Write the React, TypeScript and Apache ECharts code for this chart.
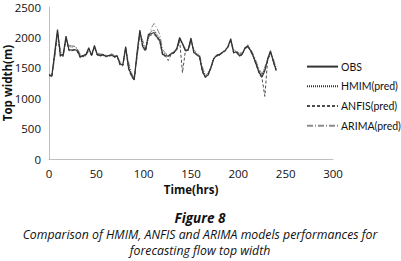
import React, { useEffect, useRef } from "react";
import * as echarts from "echarts";

const times: number[] = [];
for (let t = 0; t <= 240; t += 3) times.push(t);

const obs = [1380,1360,1750,2130,1700,1720,2020,1800,1790,1800,1780,1680,1700,1720,1830,1700,1870,1720,1700,1720,1690,1700,1710,1680,1700,1560,1550,1850,1500,1380,1300,1750,2120,1850,1790,2050,2060,2080,2010,1950,1720,1700,1690,1730,1750,1820,2000,1900,1780,1800,1990,1750,1720,1680,1450,1350,1380,1500,1650,1700,1720,1750,1780,1850,1980,1750,1760,1700,1720,1830,1860,1780,1680,1550,1420,1350,1450,1650,1780,1600,1460];
const hmim = [1370,1380,1700,2100,1750,1680,1980,1850,1840,1850,1800,1700,1680,1700,1800,1720,1850,1700,1720,1700,1700,1690,1720,1700,1680,1580,1540,1820,1550,1400,1320,1700,2080,1900,1800,2000,2100,2120,2050,1980,1750,1720,1700,1740,1760,1800,1980,1880,1800,1780,1960,1780,1730,1700,1480,1370,1400,1520,1660,1710,1700,1760,1790,1840,1950,1780,1770,1720,1740,1810,1840,1790,1700,1580,1450,1380,1500,1620,1760,1620,1480];
const anfis = [1390,1350,1720,2080,1680,1700,1990,1780,1780,1790,1760,1660,1690,1710,1810,1690,1840,1710,1690,1710,1680,1690,1700,1670,1690,1540,1530,1830,1480,1360,1290,1720,2090,1830,1770,2020,2040,2050,1990,1930,1700,1690,1620,1720,1740,1800,1950,1420,1770,1790,1970,1740,1710,1670,1430,1340,1370,1490,1640,1690,1710,1740,1770,1840,1960,1740,1750,1690,1710,1820,1850,1770,1670,1540,1400,1330,1030,1640,1770,1590,1450];
const arima = [1400,1370,1650,2050,1800,1700,1950,1870,1860,1860,1820,1720,1690,1700,1780,1740,1820,1740,1730,1720,1710,1700,1730,1710,1690,1600,1560,1780,1600,1420,1330,1650,2050,1950,1820,1980,2150,2230,2150,2050,1800,1740,1710,1720,1770,1780,1950,1900,1820,1790,1920,1800,1750,1720,1520,1390,1410,1500,1640,1720,1710,1750,1800,1830,1930,1800,1780,1740,1750,1790,1880,1810,1720,1600,1480,1400,1520,1600,1740,1650,1500];

const seriesNames = ["OBS", "HMIM(pred)", "ANFIS(pred)", "ARIMA(pred)"];
const seriesColors = ["#333333", "#333333", "#4d4d4d", "#8c8c8c"];
const seriesDash: any[] = ["solid", [1, 1], [3, 2], [6, 2, 1, 2]];
const seriesData = [obs, hmim, anfis, arima];

export default function App() {
  const ref = useRef<HTMLDivElement>(null);
  useEffect(() => {
    if (!ref.current) return;
    const chart = echarts.init(ref.current, null, { renderer: "svg" });
    const mk = (vals: number[]) => times.map((t, i) => [t, vals[i]]);
    const font = "'Open Sans', sans-serif";
    const legendFont = "Lato, 'Open Sans', sans-serif";
    chart.setOption({
      animation: false,
      grid: { left: 49, right: 68, top: 7, bottom: 102, containLabel: false },
      xAxis: {
        type: "value",
        min: 0,
        max: 300,
        interval: 50,
        axisLine: { lineStyle: { color: "#bfbfbf", width: 1 } },
        axisTick: { show: false },
        splitLine: { show: false },
        axisLabel: { color: "#111", fontSize: 11.5, fontFamily: font, margin: 8 },
      },
      yAxis: {
        type: "value",
        min: 0,
        max: 2500,
        interval: 500,
        axisLine: { show: true, lineStyle: { color: "#bfbfbf", width: 1 } },
        axisTick: { show: false },
        splitLine: { show: false },
        axisLabel: { color: "#111", fontSize: 11.5, fontFamily: font, margin: 8, formatter: (v: number) => String(v) },
      },
      legend: {
        orient: "vertical",
        left: 306,
        top: 61,
        padding: 0,
        itemWidth: 31,
        itemHeight: 14,
        itemGap: 8.5,
        data: seriesNames,
        itemStyle: { opacity: 0 },
        textStyle: { color: "#111", fontSize: 10.5, fontFamily: legendFont, padding: [0, 0, 0, -2] },
      },
      series: seriesNames.map((name, k) => ({
        name,
        type: "line",
        data: mk(seriesData[k]),
        symbol: "none",
        z: 5 - k,
        color: seriesColors[k],
        itemStyle: { color: seriesColors[k] },
        lineStyle: { color: seriesColors[k], width: k === 0 ? 1.2 : 1, type: seriesDash[k] },
      })),
      graphic: [
        { type: "text", x: 7, y: 83, rotation: Math.PI / 2, style: { text: "Top width(m)", fill: "#111", font: `bold 11.5px ${font}`, textAlign: "center", textVerticalAlign: "middle" } },
        { type: "text", x: 191, y: 189, style: { text: "Time(hrs)", fill: "#111", font: `bold 11.5px ${font}`, textAlign: "center", textVerticalAlign: "middle" } },
        { type: "text", x: 200, y: 218, style: { text: "Figure 8", fill: "#111", font: `italic bold 13.5px ${font}`, textAlign: "center", textVerticalAlign: "middle" } },
        { type: "text", x: 200, y: 234, style: { text: "Comparison of HMIM, ANFIS and ARIMA models performances for", fill: "#111", font: `italic 12.3px ${font}`, textAlign: "center", textVerticalAlign: "middle" } },
        { type: "text", x: 200, y: 250, style: { text: "forecasting flow top width", fill: "#111", font: `italic 12.3px ${font}`, textAlign: "center", textVerticalAlign: "middle" } },
      ],
    });
    return () => chart.dispose();
  }, []);
  return <div ref={ref} style={{ width: 401, height: 261, position: "absolute", left: 0, top: 0, background: "#fff" }} />;
}
